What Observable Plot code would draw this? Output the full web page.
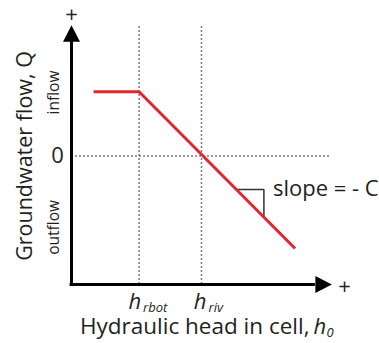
<!DOCTYPE html>
<html><head><meta charset="utf-8">
<script src="https://cdn.jsdelivr.net/npm/d3@7"></script>
<script src="https://cdn.jsdelivr.net/npm/@observablehq/plot@0.6"></script>
<style>body{margin:0;background:#fff}#chart svg{display:block}</style>
</head><body><div id="chart"></div>
<script>
// ---- data ----
const headValues = [0.85, 2.6, 8.6];      // hydraulic head h (arbitrary units)
const flowValues = [2.5, 2.5, -3.6];      // groundwater flow Q
const hRbot = 2.6;
const hRiv = 5.0;
const slopeHead = [6.35, 7.4, 7.4];
const slopeFlow = [-1.3, -1.3, -2.37];
const xDomain = [0, 10];
const yDomain = [-5, 5];
const yAxisExtent = [-5, 4.45];
const xAxisExtent = [0, 9.38];
const guideTop = 5.08;
const sideLabels = ["inflow", "outflow"];
const sideLabelFlow = [2.47, -2.78];

const font = "'Open Sans', sans-serif";
const ink = "#231f20";
const red = "#e3262b";
const arrowHead = {draw(ctx) { ctx.moveTo(0, -16.5); ctx.lineTo(8.5, 0); ctx.lineTo(-8.5, 0); ctx.closePath(); }};

const chart = Plot.plot({
  width: 379, height: 343,
  marginLeft: 71, marginRight: 48, marginTop: 27, marginBottom: 59,
  style: {fontFamily: font, color: ink, background: "#fff"},
  x: {domain: xDomain, axis: null},
  y: {domain: yDomain, axis: null},
  marks: [
    // guide lines
    Plot.ruleY([0], {x1: xDomain[0], x2: xDomain[1], stroke: "#7a7a7a", strokeWidth: 1.5, strokeDasharray: "2,2"}),
    Plot.ruleX([hRbot, hRiv], {y1: yDomain[0], y2: guideTop, stroke: "#7a7a7a", strokeWidth: 1.5, strokeDasharray: "2,2"}),
    // axes
    Plot.ruleX([0], {y1: yAxisExtent[0], y2: yAxisExtent[1], stroke: "#000", strokeWidth: 3}),
    Plot.ruleY([yDomain[0]], {x1: xAxisExtent[0] - 0.055, x2: xAxisExtent[1], stroke: "#000", strokeWidth: 3}),
    Plot.dot([0], {x: 0, y: yAxisExtent[1], symbol: arrowHead, fill: "#000", stroke: null}),
    Plot.dot([0], {x: xAxisExtent[1], y: yDomain[0], symbol: arrowHead, fill: "#000", stroke: null, rotate: 90}),
    Plot.text(["+"], {frameAnchor: "top-left", dy: -13, textAnchor: "middle", lineAnchor: "middle", fontSize: 22, fill: ink}),
    Plot.text(["+"], {frameAnchor: "bottom-right", dx: 13, dy: 2, textAnchor: "middle", lineAnchor: "middle", fontSize: 22, fill: ink}),
    // slope triangle
    Plot.line(slopeHead, {x: slopeHead, y: slopeFlow, stroke: "#333", strokeWidth: 1.5, strokeLinecap: "butt", strokeLinejoin: "miter"}),
    Plot.text(["slope = - C"], {x: slopeHead[1], y: slopeFlow[0], dx: 9, textAnchor: "start", fontSize: 22, fill: ink}),
    // response curve
    Plot.line(headValues, {x: headValues, y: flowValues, stroke: red, strokeWidth: 3, strokeLinecap: "butt"}),
    // y labels
    Plot.text(["0"], {x: 0, y: 0, dx: -14, fontSize: 22, fill: ink}),
    Plot.text(sideLabels, {x: 0, y: sideLabelFlow, dx: -17, rotate: -90, fontSize: 15.5, fill: ink}),
    Plot.text(["Groundwater flow, Q"], {frameAnchor: "left", dx: -46, rotate: -90, textAnchor: "middle", lineAnchor: "middle", fontSize: 21.5, fill: ink}),
    // x tick labels
    Plot.text(["h"], {x: hRbot, y: yDomain[0], dx: 2, dy: 24, textAnchor: "end", lineAnchor: "bottom", fontSize: 22, fontStyle: "italic", fill: ink}),
    Plot.text(["rbot"], {x: hRbot, y: yDomain[0], dx: 4, dy: 27, textAnchor: "start", lineAnchor: "bottom", fontSize: 13, fontStyle: "italic", fill: ink}),
    Plot.text(["h"], {x: hRiv, y: yDomain[0], dx: 5, dy: 24, textAnchor: "end", lineAnchor: "bottom", fontSize: 22, fontStyle: "italic", fill: ink}),
    Plot.text(["riv"], {x: hRiv, y: yDomain[0], dx: 7, dy: 27, textAnchor: "start", lineAnchor: "bottom", fontSize: 13, fontStyle: "italic", fill: ink}),
    // x title
    Plot.text(["Hydraulic head in cell,"], {frameAnchor: "bottom-right", dx: -22, dy: 49, textAnchor: "end", lineAnchor: "bottom", fontSize: 22.5, fill: ink}),
    Plot.text(["h"], {frameAnchor: "bottom-right", dx: -18, dy: 49, textAnchor: "start", lineAnchor: "bottom", fontSize: 22, fontStyle: "italic", fill: ink}),
    Plot.text(["0"], {frameAnchor: "bottom-right", dx: -5, dy: 52, textAnchor: "start", lineAnchor: "bottom", fontSize: 13, fontStyle: "italic", fill: ink})
  ]
});
document.getElementById("chart").appendChild(chart);
</script>
</body></html>
